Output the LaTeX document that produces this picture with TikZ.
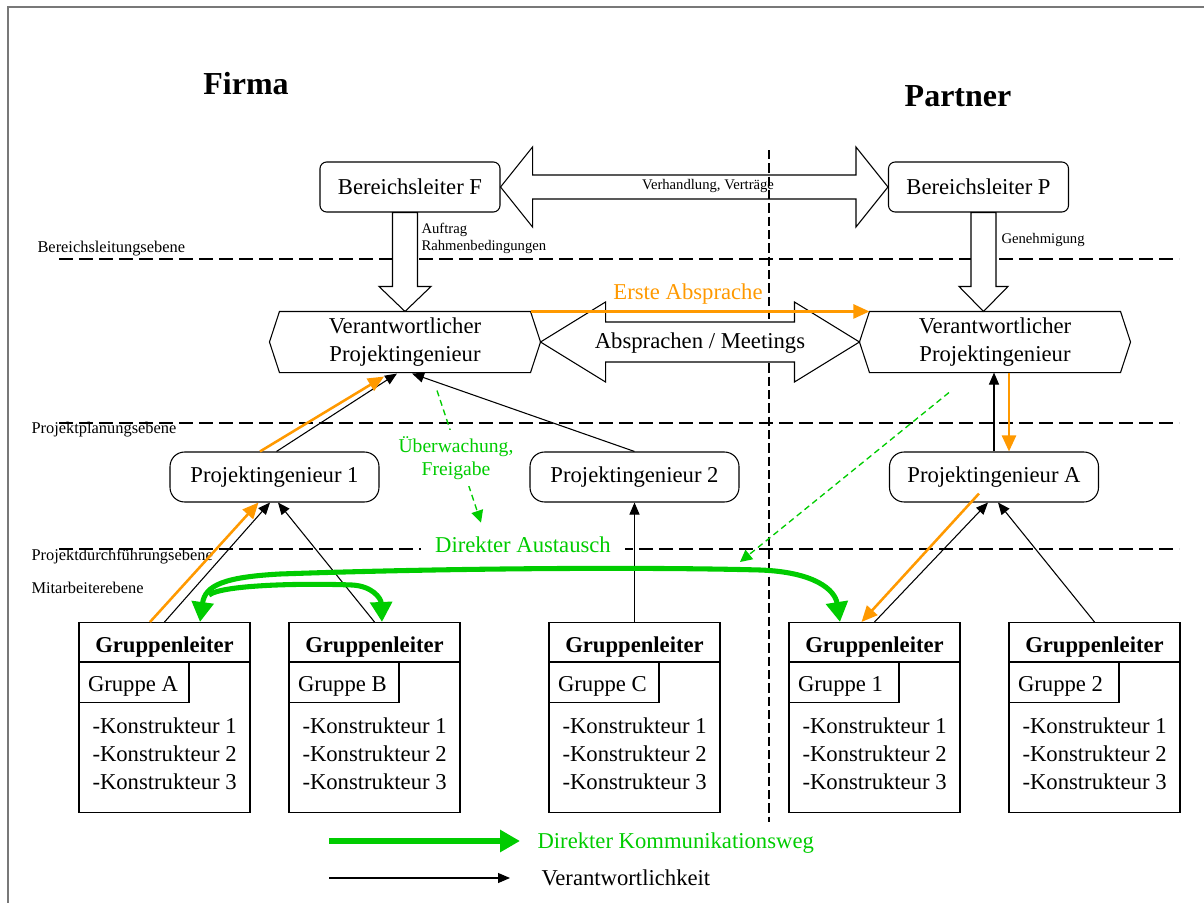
\documentclass[tikz,border=0pt]{standalone}
\usepackage{fontspec}
\setmainfont{Liberation Serif}
\usetikzlibrary{calc,arrows.meta}

\definecolor{orng}{RGB}{255,153,0}
\definecolor{grn}{RGB}{0,204,0}
\definecolor{rahmen}{RGB}{120,120,120}

\newcommand\fsz[2]{\fontsize{#1}{#2}\selectfont}

\tikzset{
  txt/.style={font=\fsz{17}{20.5}, inner sep=0pt},
  minor/.style={font=\fsz{11}{12.75}, inner sep=0pt},
  tier/.style={font=\fsz{12.3}{14}, inner sep=0pt, anchor=base west},
  chief/.style={draw, rounded corners=5pt, minimum width=135pt, minimum height=37.5pt, font=\fsz{17}{20.5}, fill=white},
  engbox/.style={draw, rounded corners=11pt, minimum width=156.75pt, minimum height=37.5pt, font=\fsz{17}{20.5}, fill=white},
  hexbody/.style={align=center, minimum width=187.5pt, minimum height=45pt, inner sep=0pt, font=\fsz{17}{20.5}},
  gbox/.style={draw, fill=white, minimum width=128.25pt, minimum height=142.5pt, inner sep=0pt},
  subbox/.style={draw, minimum width=82.5pt, minimum height=30pt, inner sep=0pt},
  blockarrow/.style={draw, line width=0.8pt, line join=miter},
  levelline/.style={dash pattern=on 10.5pt off 4.5pt, line width=0.9pt},
  partline/.style={dash pattern=on 7pt off 3pt, line width=0.9pt},
  resp/.style={line width=0.8pt, -{Triangle[length=9pt,width=7.5pt]}},
  orarrow/.style={draw=orng, line width=1.9pt, -{Triangle[length=12pt,width=10.5pt]}},
  supervise/.style={draw=grn, line width=1pt, dash pattern=on 4.5pt off 3pt, -{Triangle[length=9pt,width=9pt]}},
  comm/.style={draw=grn, line width=3.8pt, -{Triangle[length=15pt,width=16pt]}},
}

% hexagonal outline around a text node
\newcommand\hexframe[1]{%
  \draw[fill=white] (#1.north west) -- (#1.north east) -- ($(#1.east)+(10,0)$) -- (#1.south east)
    -- (#1.south west) -- ($(#1.west)+(-10,0)$) -- cycle;}

% group box: leader header, group tab, three designers
\newcommand\gruppe[3]{%
  \node[gbox, anchor=north] (#1) at (#2,622) {};
  \draw ($(#1.north west)+(0,40)$) -- ($(#1.north east)+(0,40)$);
  \node[txt, font=\fsz{17}{20.5}\bfseries, anchor=base] (#1h) at ($(#1.north)+(0,30)$) {Gruppenleiter};
  \node[subbox, anchor=north west] (#1s) at ($(#1.north west)+(0,40)$) {};
  \node[txt, anchor=base west] (#1n) at ($(#1s.north west)+(9,29)$) {#3};
  \foreach \k in {1,2,3}{\node[txt, anchor=base west] (#1k\k) at ($(#1.north west)+(13.5,83+28*\k)$) {-Konstrukteur \k};}
}

\begin{document}
\begin{tikzpicture}[x=0.75pt,y=-0.75pt,line width=0.8pt]
\useasboundingbox (0,0) rectangle (1204,903);
\draw[rahmen, line width=1.5pt] (8,903) -- (8,7) -- (1204,7);

% level separators and company boundary
\draw[levelline] (59,259) -- (1179,259);
\draw[levelline] (59,423) -- (1179,423);
\draw[levelline] (59,549) -- (1179,549);
\draw[partline] (769,150) -- (769,822);

\node[tier] (lv1) at (37,252) {Bereichsleitungsebene};
\node[tier] (lv2) at (31,433) {Projektplanungsebene};
\node[tier] (lv3) at (31,560) {Projektdurchführungsebene};
\node[tier] (lv4) at (31,593) {Mitarbeiterebene};

\node[font=\fsz{24}{28}\bfseries] (firma) at (246,84) {Firma};
\node[font=\fsz{24}{28}\bfseries] (partner) at (958,96) {Partner};

% management
\node[chief] (bf) at (410,187) {Bereichsleiter F};
\node[chief] (bp) at (978.5,187) {Bereichsleiter P};

\draw[blockarrow] (bf.east) -- ++(32,-40) -- ++(0,28) -- ($(bp.west)+(-32,-12)$) -- ++(0,-28)
  -- (bp.west) -- ++(-32,40) -- ++(0,-28) -- ($(bf.east)+(32,12)$) -- ++(0,28) -- cycle;
\node[minor] (vv) at (708,186) {Verhandlung, Verträge};

% responsible engineers
\node[hexbody] (hexL) at (405,342) {};
\node[hexbody] (hexR) at (995,342) {};
\hexframe{hexL}
\hexframe{hexR}
\node[hexbody] (hexLt) at (hexL) {Verantwortlicher\\Projektingenieur};
\node[hexbody] (hexRt) at (hexR) {Verantwortlicher\\Projektingenieur};

\draw[blockarrow, fill=white] ($(bf.south -| hexL.north)+(-12.5,0)$) -- ($(hexL.north)+(-12.5,-25)$) -- ++(-13.5,0)
  -- (hexL.north) -- ++(26,-25) -- ++(-13.5,0) -- ($(bf.south -| hexL.north)+(12.5,0)$) -- cycle;
\coordinate (gtop) at ($(bp.south)+(5,0)$);
\coordinate (gtip) at (gtop |- hexR.north);
\draw[blockarrow, fill=white] ($(gtop)+(-12.5,0)$) -- ($(gtip)+(-12.5,-25)$) -- ++(-12,0)
  -- (gtip) -- ++(24.5,-25) -- ++(-12,0) -- ($(gtop)+(12.5,0)$) -- cycle;
\node[minor, anchor=west, align=left] (auf) at (421,238) {Auftrag\\Rahmenbedingungen};
\node[minor, anchor=west] (gen) at (1001,240) {Genehmigung};

\draw[blockarrow, fill=white] ($(hexL.east)+(10,0)$) -- ++(65,-40) -- ++(0,20) -- ($(hexR.west)+(-75,-20)$) -- ++(0,-20)
  -- ($(hexR.west)+(-10,0)$) -- ++(-65,40) -- ++(0,-20) -- ($(hexL.east)+(75,20)$) -- ++(0,20) -- cycle;
\node[txt] (abs) at (700,343) {Absprachen / Meetings};

\draw[orarrow] (hexL.north east) -- (hexR.north west);
\node[txt, text=orng] (erste) at (688,294) {Erste Absprache};

% project engineers
\node[engbox] (pi1) at (274.5,477) {Projektingenieur 1};
\node[engbox] (pi2) at (634.5,477) {Projektingenieur 2};
\node[engbox] (pia) at (994,477) {Projektingenieur A};

% groups
\gruppe{ga}{164.5}{Gruppe A}
\gruppe{gb}{374.5}{Gruppe B}
\gruppe{gc}{634.5}{Gruppe C}
\gruppe{g1}{874.5}{Gruppe 1}
\gruppe{g2}{1094.5}{Gruppe 2}

% responsibility
\draw[resp] ($(pi1.north)+(2,0)$) -- ($(hexL.south)+(-8,1)$);
\draw[resp] (pi2.north) -- ($(hexL.south)+(7,1)$);
\draw[resp] (ga.north) -- ($(pi1.south)+(-4.5,0)$);
\draw[resp] (gb.north) -- ($(pi1.south)+(3.5,0)$);
\draw[resp] (gc.north) -- (pi2.south);
\draw[resp] (g1.north) -- ($(pia.south)+(-6,0)$);
\draw[resp] (g2.north) -- ($(pia.south)+(4,0)$);
\draw[resp] (pia.north) -- (pia.north |- hexR.south);

% first agreement chain
\draw[orarrow] ($(pi1.north)+(-14.5,0)$) -- ($(hexL.south)+(-21,4)$);
\draw[orarrow] ($(ga.north)+(-14.5,0)$) -- ($(pi1.south)+(-16,0)$);
\draw[orarrow] ($(hexR.south)+(14,0)$) -- ($(pia.north)+(15,0)$);
\draw[orarrow] ($(pia.south)+(-15,-9)$) -- ($(g1.north)+(-13,0)$);

% supervision
\draw[supervise] ($(hexL.south)+(32,18)$) -- ($(hexL.south)+(76,150)$);
\node[font=\fsz{14.7}{17.25}, text=grn, fill=white, align=center, inner xsep=1pt, inner ysep=5pt] (ueb) at (456,458) {Überwachung,\\Freigabe};
\draw[supervise] ($(hexR.south)+(-46,20)$) -- ($(g1.north)+(-134.5,-60)$);
\node[txt, text=grn, fill=white, inner xsep=11pt, inner ysep=2pt] (dir) at (523,545) {Direkter Austausch};

% direct communication
\draw[comm, {Triangle[length=15pt,width=16pt]}-{Triangle[length=15pt,width=16pt]}]
  ($(ga.north)+(35.5,0)$) .. controls (205,585) and (225,577) .. (280,574)
  .. controls (450,568) and (650,567) .. (760,570)
  .. controls (815,572) and (835,590) .. ($(g1.north)+(-34.5,0)$);
\coordinate (split) at (209,595);
\draw[comm] (split) .. controls (222,585) and (300,583) .. (352,585)
  .. controls (372,586) and (381,598) .. ($(gb.north)+(7.5,0)$);

% legend
\coordinate (k1) at (329,841);
\coordinate (k2) at (520,841);
\draw[comm] (k1) -- (k2);
\node[txt, text=grn, anchor=west] (lk) at (537,843) {Direkter Kommunikationsweg};
\coordinate (v1) at (329,878);
\coordinate (v2) at (510,878);
\draw[resp] (v1) -- (v2);
\node[txt, anchor=west] (lv) at (541,878) {Verantwortlichkeit};
\end{tikzpicture}
\end{document}
